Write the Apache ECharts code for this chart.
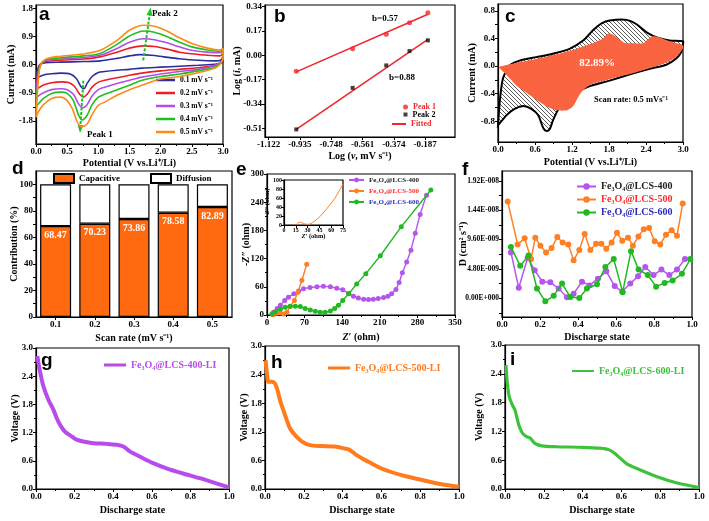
<!DOCTYPE html>
<html><head><meta charset="utf-8">
<script src="https://cdn.jsdelivr.net/npm/echarts@6/dist/echarts.min.js"></script>
<style>html,body{margin:0;padding:0;background:#fff}#main{width:709px;height:521px}</style>
</head><body><div id="main"></div>
<script>
// ---------------- DATA ----------------
// (a) CV curves at different scan rates: [potential V, current mA]
const cvLabels = ['0.1 mV s⁻¹','0.2 mV s⁻¹','0.3 mV s⁻¹','0.4 mV s⁻¹','0.5 mV s⁻¹'];
const cv01 = [[0,-0.45],[0.02,-0.2],[0.06,0.0],[0.15,0.06],[0.4,0.08],[0.76,0.1],[1.03,0.12],[1.3,0.2],[1.5,0.28],[1.67,0.32],[1.85,0.3],[2.05,0.25],[2.3,0.19],[2.6,0.14],[2.85,0.12],[2.97,0.15],[3.0,0.3],
  [3.0,0.1],[2.9,0.02],[2.6,-0.02],[2.3,-0.05],[2.0,-0.08],[1.7,-0.11],[1.5,-0.15],[1.3,-0.18],[1.1,-0.22],[1.0,-0.25],[0.9,-0.38],[0.82,-0.6],[0.77,-0.77],[0.72,-0.7],[0.65,-0.45],[0.55,-0.3],[0.4,-0.27],[0.25,-0.29],[0.12,-0.33],[0.04,-0.4],[0,-0.45]];
const cv02 = [[0,-0.82],[0.02,-0.4],[0.06,-0.02],[0.15,0.1],[0.4,0.14],[0.76,0.18],[1.03,0.25],[1.3,0.4],[1.5,0.53],[1.73,0.6],[1.9,0.58],[2.1,0.5],[2.3,0.4],[2.5,0.35],[2.75,0.3],[2.95,0.28],[3.0,0.38],
  [3.0,0.15],[2.9,0.0],[2.6,-0.1],[2.3,-0.15],[2.0,-0.2],[1.7,-0.27],[1.5,-0.34],[1.3,-0.42],[1.1,-0.5],[1.0,-0.56],[0.9,-0.72],[0.82,-0.95],[0.76,-1.04],[0.7,-0.95],[0.62,-0.7],[0.52,-0.57],[0.4,-0.55],[0.25,-0.58],[0.12,-0.65],[0.04,-0.75],[0,-0.82]];
const cv03 = [[0,-1.09],[0.02,-0.6],[0.06,-0.05],[0.15,0.13],[0.4,0.18],[0.76,0.23],[1.03,0.3],[1.3,0.52],[1.5,0.72],[1.73,0.83],[1.9,0.8],[2.1,0.7],[2.3,0.57],[2.5,0.46],[2.75,0.4],[2.95,0.38],[3.0,0.45],
  [3.0,0.2],[2.9,0.0],[2.6,-0.15],[2.3,-0.22],[2.0,-0.3],[1.7,-0.4],[1.5,-0.5],[1.3,-0.6],[1.1,-0.72],[1.0,-0.8],[0.9,-1.0],[0.82,-1.28],[0.75,-1.38],[0.69,-1.28],[0.6,-0.95],[0.5,-0.8],[0.4,-0.77],[0.25,-0.8],[0.12,-0.9],[0.04,-1.0],[0,-1.09]];
const cv04 = [[0,-1.36],[0.02,-0.8],[0.06,-0.08],[0.15,0.15],[0.4,0.22],[0.76,0.28],[1.03,0.36],[1.3,0.65],[1.5,0.92],[1.73,1.08],[1.9,1.04],[2.1,0.9],[2.3,0.72],[2.5,0.57],[2.75,0.47],[2.95,0.43],[3.0,0.5],
  [3.0,0.2],[2.9,-0.05],[2.6,-0.2],[2.3,-0.3],[2.0,-0.38],[1.7,-0.5],[1.5,-0.66],[1.3,-0.8],[1.1,-0.95],[1.0,-1.04],[0.9,-1.28],[0.82,-1.62],[0.74,-1.77],[0.68,-1.6],[0.6,-1.15],[0.5,-0.92],[0.4,-0.88],[0.25,-0.92],[0.12,-1.08],[0.04,-1.25],[0,-1.36]];
const cv05 = [[0,-1.68],[0.02,-1.0],[0.06,-0.12],[0.15,0.17],[0.4,0.27],[0.76,0.34],[1.03,0.46],[1.3,0.78],[1.5,1.1],[1.73,1.26],[1.9,1.23],[2.1,1.08],[2.3,0.86],[2.5,0.68],[2.75,0.53],[2.95,0.47],[3.0,0.52],
  [3.0,0.22],[2.9,-0.08],[2.6,-0.26],[2.3,-0.38],[2.0,-0.46],[1.7,-0.66],[1.5,-0.8],[1.3,-0.98],[1.1,-1.2],[1.0,-1.3],[0.9,-1.6],[0.82,-1.9],[0.73,-1.99],[0.66,-1.82],[0.58,-1.4],[0.5,-1.15],[0.4,-1.04],[0.25,-1.08],[0.12,-1.28],[0.04,-1.5],[0,-1.68]];
const peakArrow2 = [[1.72,0.14],[1.83,1.70]];
const peakArrow1 = [[0.76,-0.51],[0.71,-2.06]];
const aYTicks = [-1.8,-0.9,0,0.9,1.8];

// (b) log(i) vs log(v)
const logV = [-0.957,-0.620,-0.419,-0.280,-0.170];
const logIPeak1 = [-0.110,0.047,0.147,0.228,0.298];
const logIPeak2 = [-0.517,-0.227,-0.070,0.030,0.105];
const fit1 = [[-0.957,-0.115],[-0.170,0.287]];
const fit2 = [[-0.957,-0.517],[-0.170,0.112]];
const bXTicks = [-1.122,-0.935,-0.748,-0.561,-0.374,-0.187];
const bYTicks = [-0.51,-0.34,-0.17,0,0.17,0.34];

// (c) CV at 0.5 mV/s with capacitive contribution
const cvTotalC = [[0,-0.86],[0.03,-0.5],[0.08,-0.18],[0.19,0.01],[0.35,0.08],[0.62,0.13],[0.89,0.18],[1.16,0.25],[1.38,0.37],[1.54,0.52],[1.68,0.62],[1.81,0.66],[2.08,0.67],[2.24,0.61],[2.41,0.49],[2.59,0.41],[2.78,0.37],[3.0,0.36],
  [3.0,0.32],[2.97,0.2],[2.89,0.11],[2.73,0.02],[2.46,-0.04],[2.14,-0.12],[1.81,-0.21],[1.49,-0.29],[1.27,-0.38],[1.11,-0.47],[0.97,-0.64],[0.89,-0.79],[0.84,-0.91],[0.79,-0.94],[0.74,-0.91],[0.65,-0.71],[0.54,-0.62],[0.41,-0.58],[0.27,-0.62],[0.14,-0.71],[0,-0.86]];
const capC = [[0,-0.01],[0.3,0.05],[0.6,0.1],[0.9,0.16],[1.2,0.23],[1.5,0.32],[1.7,0.4],[1.78,0.47],[1.85,0.46],[1.95,0.4],[2.05,0.34],[2.2,0.33],[2.35,0.33],[2.42,0.38],[2.5,0.43],[2.6,0.42],[2.75,0.37],[2.9,0.33],[3.0,0.3],
  [3.0,0.26],[2.9,0.14],[2.75,0.06],[2.5,-0.02],[2.2,-0.1],[1.8,-0.19],[1.5,-0.27],[1.38,-0.35],[1.3,-0.45],[1.22,-0.58],[1.12,-0.64],[0.95,-0.64],[0.8,-0.59],[0.64,-0.5],[0.45,-0.38],[0.32,-0.3],[0.15,-0.14],[0,-0.01]];
const cYTicks = [-0.8,-0.4,0,0.4,0.8];

// (d) contribution bars
const scanRates = ['0.1','0.2','0.3','0.4','0.5'];
const capacitive = [68.47,70.23,73.86,78.58,82.89];
const diffusion = [31.53,29.77,26.14,21.42,17.11];
const dYTicks = [0,20,40,60,80,100];

// (e) Nyquist plots [Z', -Z'']
const eis400 = [[12,6],[19,14],[25,21],[33,31],[40,38],[50,45],[59,51],[68,56],[80,58.6],[93,60],[105,61],[118,60],[130,57],[141,53.6],[152,46],[161,40],[170,36],[180,33.6],[189,33],[198,33.6],[207,35],[217,37],[225,40],[232,45],[240,54],[246,69],[252,90],[260,113],[268,138],[276,174],[285,214],[297,255]];
const eis500 = [[11,0.7],[18.6,3.6],[24.8,4.3],[31,2],[37,6],[43,18],[51,31],[57.6,48.6],[65,74],[74,108]];
const eis600 = [[9,2],[15.5,7],[25,13],[34,16.4],[43,18.6],[52.7,18.6],[62,18],[71,14],[80.5,10.7],[90,7.9],[99,5.7],[108,5.7],[118,8.6],[126,14],[133,21],[141,31],[152,45],[167,66],[184,88],[211,126],[250,188],[305,266]];
const eisInset500 = [[15,0],[18,5],[21,6],[24.4,3.7],[28.7,1.5],[33,2.2],[39,8.9],[45.5,18.5],[51.8,31],[58,44],[64.5,59],[70.8,78],[75,91]];
const seriesNames = ['Fe₃O₄@LCS-400','Fe₃O₄@LCS-500','Fe₃O₄@LCS-600'];

// (f) diffusion coefficient vs discharge state
const d400 = [[0.047,7.5e-9],[0.088,1.7e-9],[0.135,6.6e-9],[0.172,4.6e-9],[0.212,2.7e-9],[0.254,2.6e-9],[0.298,1.6e-9],[0.342,0.16e-9],[0.377,0.76e-9],[0.421,2.7e-9],[0.461,2.1e-9],[0.505,3.2e-9],[0.549,4.4e-9],[0.593,2.0e-9],[0.633,1.1e-9],[0.675,2.4e-9],[0.716,3.6e-9],[0.754,5.1e-9],[0.798,3.8e-9],[0.839,4.7e-9],[0.881,3.8e-9],[0.921,4.7e-9],[0.963,6.4e-9]];
const d500 = [[0.03,15.8e-9],[0.082,8.8e-9],[0.119,9.8e-9],[0.153,6.4e-9],[0.175,9.9e-9],[0.202,8.6e-9],[0.232,7.5e-9],[0.261,8.2e-9],[0.291,10.0e-9],[0.319,9.1e-9],[0.349,8.8e-9],[0.377,6.2e-9],[0.407,7.9e-9],[0.435,10.5e-9],[0.465,7.9e-9],[0.495,8.9e-9],[0.523,8.9e-9],[0.549,8.1e-9],[0.577,9.1e-9],[0.605,10.7e-9],[0.633,9.4e-9],[0.663,9.9e-9],[0.689,8.6e-9],[0.718,10.1e-9],[0.746,11.3e-9],[0.774,11.5e-9],[0.804,9.3e-9],[0.833,8.8e-9],[0.863,10.4e-9],[0.893,11.1e-9],[0.921,10.2e-9],[0.951,15.5e-9]];
const d600 = [[0.047,8.4e-9],[0.096,5.3e-9],[0.14,7.0e-9],[0.184,1.6e-9],[0.228,-0.5e-9],[0.272,0.4e-9],[0.316,2.4e-9],[0.36,0.2e-9],[0.407,0.05e-9],[0.447,1.6e-9],[0.5,2.3e-9],[0.544,5.1e-9],[0.588,6.4e-9],[0.635,1.0e-9],[0.679,7.7e-9],[0.719,4.7e-9],[0.767,3.8e-9],[0.811,1.9e-9],[0.856,2.5e-9],[0.898,2.9e-9],[0.947,4.0e-9],[0.991,6.4e-9]];
const fYTicks = [0,4.8e-9,9.6e-9,1.44e-8,1.92e-8];
const fYTickMarks = [-2.4e-9,0,2.4e-9,4.8e-9,7.2e-9,9.6e-9,1.2e-8,1.44e-8,1.68e-8,1.92e-8];

// (g,h,i) discharge curves [state, V]
const liNames = ['Fe₃O₄@LCS-400-LI','Fe₃O₄@LCS-500-LI','Fe₃O₄@LCS-600-LI'];
const v400 = [[0.007,2.83],[0.017,2.58],[0.038,2.19],[0.064,1.9],[0.09,1.69],[0.107,1.51],[0.124,1.37],[0.15,1.22],[0.184,1.12],[0.21,1.05],[0.245,1.01],[0.297,0.975],[0.366,0.96],[0.417,0.94],[0.455,0.9],[0.486,0.8],[0.538,0.69],[0.607,0.55],[0.676,0.44],[0.762,0.33],[0.848,0.23],[0.934,0.12],[1.0,0.036]];
const v500 = [[0.003,2.7],[0.01,2.43],[0.017,2.25],[0.034,2.25],[0.05,2.22],[0.064,2.08],[0.077,1.87],[0.094,1.66],[0.112,1.45],[0.129,1.27],[0.155,1.13],[0.189,1.0],[0.232,0.92],[0.292,0.9],[0.36,0.89],[0.41,0.85],[0.438,0.82],[0.472,0.71],[0.533,0.57],[0.6,0.43],[0.704,0.29],[0.808,0.19],[0.91,0.1],[1.0,0.05]];
const v600 = [[0.005,2.58],[0.012,2.2],[0.022,1.92],[0.038,1.75],[0.051,1.65],[0.06,1.51],[0.074,1.3],[0.091,1.16],[0.111,1.09],[0.129,1.06],[0.154,0.95],[0.189,0.9],[0.266,0.88],[0.386,0.87],[0.489,0.85],[0.54,0.81],[0.575,0.71],[0.626,0.53],[0.695,0.4],[0.78,0.26],[0.883,0.13],[1.0,0.03]];

// ---------------- STYLE / LAYOUT ----------------
const SERIF = '"Liberation Serif","Times New Roman",serif';
const SANS = '"Liberation Sans",Arial,sans-serif';
const C = {blue:'#2B2F9B', red:'#EE1C25', violet:'#B44CEA', green:'#1FBF1F', orange:'#FF8A1A',
  bar:'#FF6A10', coral:'#FA6441', e400:'#B455EE', e500:'#FF7F24', e600:'#22B822'};

function grid(l,t,w,h){return {left:l,top:t,width:w,height:h,show:true,borderColor:'#000',borderWidth:1.2,backgroundColor:'transparent',containLabel:false};}
function ax(gi, o){
  const a = {
    type:o.type||'value', gridIndex:gi, min:o.min, max:o.max,
    axisLine:{show:true,onZero:false,lineStyle:{color:'#000',width:1.2}},
    axisTick:{show:true,length:3,lineStyle:{color:'#000',width:1}},
    minorTick:{show:!!o.minor,splitNumber:2,length:2,lineStyle:{color:'#000',width:1}},
    axisLabel:{color:'#000',fontFamily:SERIF,fontWeight:'bold',fontSize:o.fs||9,margin:o.margin||3,formatter:o.fmt},
    splitLine:{show:false}, minorSplitLine:{show:false},
    name:o.name, nameLocation:'middle', nameGap:o.gap, nameMoveOverlap:false,
    nameTextStyle:{color:'#000',fontFamily:SERIF,fontWeight:'bold',fontSize:o.nfs||10,
      rich:{it:{fontFamily:SERIF,fontWeight:'bold',fontStyle:'italic',fontSize:o.nfs||10,color:'#000'}}}
  };
  if(o.interval!==undefined) a.interval=o.interval;
  if(o.data) a.data=o.data;
  if(o.type==='category'){ a.axisTick.alignWithLabel=true; a.boundaryGap=true; }
  if(o.ticks){ a.axisLabel.customValues=o.ticks; a.axisTick.customValues=o.tickMarks||o.ticks; a.minorTick.show=false; }
  return a;
}
const f1 = v=>v.toFixed(1), f2=v=>v.toFixed(2), f3=v=>v.toFixed(3), f0=v=>String(Math.round(v));
const fSci = v=>{ if(Math.abs(v)<1e-15) return '0.00E+000'; const e=Math.floor(Math.log10(v)+1e-9); const m=v/Math.pow(10,e); return m.toFixed(2)+'E-'+String(-e).padStart(3,'0'); };
const half = arr=>{const r=[];for(let i=0;i<arr.length;i++){r.push(arr[i]); if(i<arr.length-1) r.push((arr[i]+arr[i+1])/2);} return r;};

const grids = [
  grid(36,5,187,139),    // a
  grid(265,5,190,132),   // b
  grid(498,4,185,138),   // c
  grid(36,171,196,146),  // d
  grid(267,174,188,141), // e
  grid(502,171,190,146), // f
  grid(36,348,193,141),  // g
  grid(265,346,194,143), // h
  grid(505,345,194,144), // i
  grid(284,180,59,45)    // e inset
];
const xAxes = [
  ax(0,{min:0,max:3,interval:0.5,minor:true,fmt:f1,name:'Potential (V vs.Li⁺/Li)',gap:14}),
  ax(1,{min:-1.144,max:-0.008,ticks:bXTicks,fmt:f3,name:'Log ({it|v}, mV s⁻¹)',gap:14}),
  ax(2,{min:0,max:3,interval:0.6,minor:true,fmt:f1,name:'Potential (V vs.Li⁺/Li)',gap:15}),
  ax(3,{type:'category',data:scanRates,name:'Scan rate (mV s⁻¹)',gap:16}),
  ax(4,{min:0,max:350,interval:70,minor:true,fmt:f0,name:'{it|Z′} (ohm)',gap:17}),
  ax(5,{min:0,max:1,interval:0.2,minor:true,fmt:f1,name:'Discharge state',gap:15}),
  ax(6,{min:0,max:1,interval:0.2,minor:true,fmt:f1,name:'Discharge state',gap:16}),
  ax(7,{min:0,max:1,interval:0.2,minor:true,fmt:f1,name:'Discharge state',gap:16}),
  ax(8,{min:0,max:1,interval:0.2,minor:true,fmt:f1,name:'Discharge state',gap:16}),
  ax(9,{min:0,max:75,interval:15,fmt:f0,fs:6,margin:2,name:'{it|Z′} (ohm)',gap:8,nfs:6.5})
];
const yAxes = [
  ax(0,{min:-2.54,max:1.91,ticks:aYTicks,tickMarks:half(aYTicks),fmt:f1,name:'Current (mA)',gap:20}),
  ax(1,{min:-0.57,max:0.352,ticks:bYTicks,fmt:f2,name:'Log ({it|i}, mA)',gap:23}),
  ax(2,{min:-1.1,max:0.9,ticks:cYTicks,tickMarks:half(cYTicks),fmt:f1,name:'Current (mA)',gap:21}),
  ax(3,{min:0,max:110,ticks:dYTicks,tickMarks:half(dYTicks),fmt:f0,name:'Contribution (%)',gap:17}),
  ax(4,{min:0,max:300,interval:60,minor:true,fmt:f0,name:'{it|-Z″} (ohm)',gap:16}),
  ax(5,{min:-3.06e-9,max:2.08e-8,ticks:fYTicks,tickMarks:fYTickMarks,fmt:fSci,fs:7.5,name:'D (cm² s⁻¹)',gap:34}),
  ax(6,{min:0,max:3,interval:0.6,minor:true,fmt:f1,name:'Voltage (V)',gap:16}),
  ax(7,{min:0,max:3,interval:0.6,minor:true,fmt:f1,name:'Voltage (V)',gap:16}),
  ax(8,{min:0,max:3,interval:0.6,minor:true,fmt:f1,name:'Voltage (V)',gap:21}),
  ax(9,{min:0,max:100,interval:20,fmt:f0,fs:6,margin:2,name:'{it|-Z″} (ohm)',gap:13,nfs:6.5})
];

function hatch(){
  const s=4, c=document.createElement('canvas'); c.width=s; c.height=s;
  const g=c.getContext('2d'); g.fillStyle='#fff'; g.fillRect(0,0,s,s);
  g.strokeStyle='#333'; g.lineWidth=0.8; g.beginPath();
  g.moveTo(-1,-1); g.lineTo(s+1,s+1); g.moveTo(-1,s-1); g.lineTo(1,s+1); g.moveTo(s-1,-1); g.lineTo(s+1,1); g.stroke();
  return c;
}
const hatchPat = {image:hatch(), repeat:'repeat'};

function polySeries(gi, pts, style, z){
  return {type:'custom', xAxisIndex:gi, yAxisIndex:gi, data:[[pts[0][0],pts[0][1]]], silent:true, z:z, clip:false,
    renderItem:(params,api)=>({type:'polygon', shape:{points:pts.map(p=>api.coord(p)), smooth:0.25}, style:style})};
}

const cvColors=[C.blue,C.red,C.violet,C.green,C.orange];
const cvData=[cv01,cv02,cv03,cv04,cv05];
const series=[];
cvData.forEach((d,i)=>series.push({type:'line',name:cvLabels[i],xAxisIndex:0,yAxisIndex:0,data:d,symbol:'none',smooth:0.3,
  lineStyle:{width:1.6,color:cvColors[i]},itemStyle:{color:cvColors[i]},z:3+i}));
series.push({type:'line',name:'arrows',xAxisIndex:0,yAxisIndex:0,data:[],symbol:'none',
  markLine:{silent:true,symbol:['none','triangle'],symbolSize:[6,8],label:{show:false},
    lineStyle:{color:'#22C022',width:2,type:[3,1.5]},
    data:[[{coord:peakArrow2[0]},{coord:peakArrow2[1]}],[{coord:peakArrow1[0]},{coord:peakArrow1[1]}]]}});
// b
series.push({type:'line',name:'Fitted',xAxisIndex:1,yAxisIndex:1,data:fit1,symbol:'none',lineStyle:{color:'#F0282D',width:1.6},itemStyle:{color:'#F0282D'}});
series.push({type:'line',name:'Fitted',xAxisIndex:1,yAxisIndex:1,data:fit2,symbol:'none',lineStyle:{color:'#F0282D',width:1.6},itemStyle:{color:'#F0282D'}});
series.push({type:'scatter',name:'Peak 1',xAxisIndex:1,yAxisIndex:1,data:logV.map((x,i)=>[x,logIPeak1[i]]),symbol:'circle',symbolSize:5,itemStyle:{color:'#F0282D'},z:5});
series.push({type:'scatter',name:'Peak 2',xAxisIndex:1,yAxisIndex:1,data:logV.map((x,i)=>[x,logIPeak2[i]]),symbol:'rect',symbolSize:4,itemStyle:{color:'#111'},z:5});
// c
series.push(polySeries(2,cvTotalC,{fill:hatchPat,stroke:'#000',lineWidth:2},2));
series.push(polySeries(2,capC,{fill:C.coral,stroke:null},3));
// d
series.push({type:'bar',name:'Capacitive',xAxisIndex:3,yAxisIndex:3,stack:'d',data:capacitive,barWidth:31,
  itemStyle:{color:C.bar,borderColor:'#000',borderWidth:1.2},
  label:{show:true,position:'insideTop',distance:4,color:'#fff',fontFamily:SERIF,fontWeight:'bold',fontSize:10,formatter:p=>p.value.toFixed(2)}});
series.push({type:'bar',name:'Diffusion',xAxisIndex:3,yAxisIndex:3,stack:'d',data:diffusion,barWidth:31,
  itemStyle:{color:'#fff',borderColor:'#000',borderWidth:1.2}});
// e
[[eis400,C.e400],[eis500,C.e500],[eis600,C.e600]].forEach((s,i)=>series.push({type:'line',name:seriesNames[i],xAxisIndex:4,yAxisIndex:4,data:s[0],
  symbol:'circle',symbolSize:5,showSymbol:true,lineStyle:{width:1.4,color:s[1]},itemStyle:{color:s[1]},z:3+i}));
series.push({type:'line',name:'inset500',xAxisIndex:9,yAxisIndex:9,data:eisInset500,symbol:'none',smooth:0.3,lineStyle:{width:1,color:C.e500},itemStyle:{color:C.e500}});
// f
[[d400,C.e400],[d500,C.e500],[d600,C.e600]].forEach((s,i)=>series.push({type:'line',name:seriesNames[i],xAxisIndex:5,yAxisIndex:5,data:s[0],
  symbol:'circle',symbolSize:6,lineStyle:{width:1.5,color:s[1]},itemStyle:{color:s[1]},z:3+i}));
// g h i
const liCol=['#B84CEB','#FF7B1C','#3CC23C'];
[v400,v500,v600].forEach((d,i)=>series.push({type:'line',name:liNames[i],xAxisIndex:6+i,yAxisIndex:6+i,data:d,symbol:'none',smooth:0.3,
  lineStyle:{width:i===2?3.2:4,color:liCol[i]},itemStyle:{color:liCol[i]}}));

const legTxt=(fs,color)=>({fontFamily:SERIF,fontWeight:'bold',fontSize:fs,color:color||'#000'});
const L=(o)=>Object.assign({padding:0,selectedMode:false,orient:'vertical'},o);
const legends=[
  L({data:cvLabels,icon:'rect',left:156,top:76,itemWidth:19,itemHeight:2.5,itemGap:5,textStyle:legTxt(7.5)}),
  L({data:[{name:'Peak 1',textStyle:{color:'#F0282D'}}],icon:'circle',left:403,top:103,itemWidth:5,itemHeight:5,textStyle:legTxt(8)}),
  L({data:[{name:'Peak 2',textStyle:{color:'#000'}}],icon:'rect',left:403.5,top:110.5,itemWidth:4,itemHeight:4,textStyle:legTxt(8)}),
  L({data:[{name:'Fitted',textStyle:{color:'#F0282D'}}],icon:'rect',left:392,top:120,itemWidth:14,itemHeight:2,textStyle:legTxt(8)}),
  L({data:['Capacitive','Diffusion'],icon:'rect',orient:'horizontal',left:53,top:173,itemWidth:20,itemHeight:9,itemGap:30,textStyle:legTxt(9)}),
  L({data:[{name:seriesNames[0],textStyle:{color:'#222'}},{name:seriesNames[1],textStyle:{color:'#FF2A2A'}},{name:seriesNames[2],textStyle:{color:'#2B2BB8'}}],
   left:348,top:176.5,itemWidth:15,itemHeight:6,itemGap:4,textStyle:legTxt(7)}),
  L({data:[{name:seriesNames[0],textStyle:{color:'#222'}},{name:seriesNames[1],textStyle:{color:'#FF2A2A'}},{name:seriesNames[2],textStyle:{color:'#2B2BB8'}}],
   left:576,top:181.5,itemWidth:19,itemHeight:8,itemGap:3,textStyle:legTxt(10)}),
  L({data:[{name:liNames[0],textStyle:{color:liCol[0]}}],icon:'rect',left:104,top:360,itemWidth:22,itemHeight:3,textStyle:legTxt(10)}),
  L({data:[{name:liNames[1],textStyle:{color:liCol[1]}}],icon:'rect',left:328,top:363,itemWidth:22,itemHeight:3,textStyle:legTxt(10)}),
  L({data:[{name:liNames[2],textStyle:{color:liCol[2]}}],icon:'rect',left:572,top:366,itemWidth:22,itemHeight:2,textStyle:legTxt(10)})
];

function txt(x,y,s,o){o=o||{};return {type:'text',x:x,y:y,z:100,silent:true,style:{text:s,fill:o.color||'#000',
  font:(o.weight||'bold')+' '+(o.size||9)+'px '+(o.fam||SERIF),textAlign:o.align||'left',textVerticalAlign:'middle'}};}
const letters=[['a',39,15],['b',274,17],['c',505,16.5],['d',12,168.5],['e',236,169.5],['f',462,169.5],['g',41,361],['h',271,362.5],['i',510,359.5]];
const graphics=letters.map(l=>txt(l[1],l[2],l[0],{size:19,fam:SANS}));
graphics.push(txt(152,14,'Peak 2'));
graphics.push(txt(87,135,'Peak 1'));
graphics.push(txt(372,19,'b=0.57'));
graphics.push(txt(389,78,'b=0.88'));
graphics.push(txt(597,63.5,'82.89%',{color:'#fff',size:11,align:'center'}));
graphics.push(txt(594,100,'Scan rate: 0.5 mVs⁻¹',{size:8.5}));

const chart=echarts.init(document.getElementById('main'),null,{renderer:'canvas'});
chart.setOption({
  animation:false, backgroundColor:'#fff',
  textStyle:{fontFamily:SERIF},
  grid:grids, xAxis:xAxes, yAxis:yAxes, legend:legends, series:series, graphic:graphics
});
</script></body></html>
